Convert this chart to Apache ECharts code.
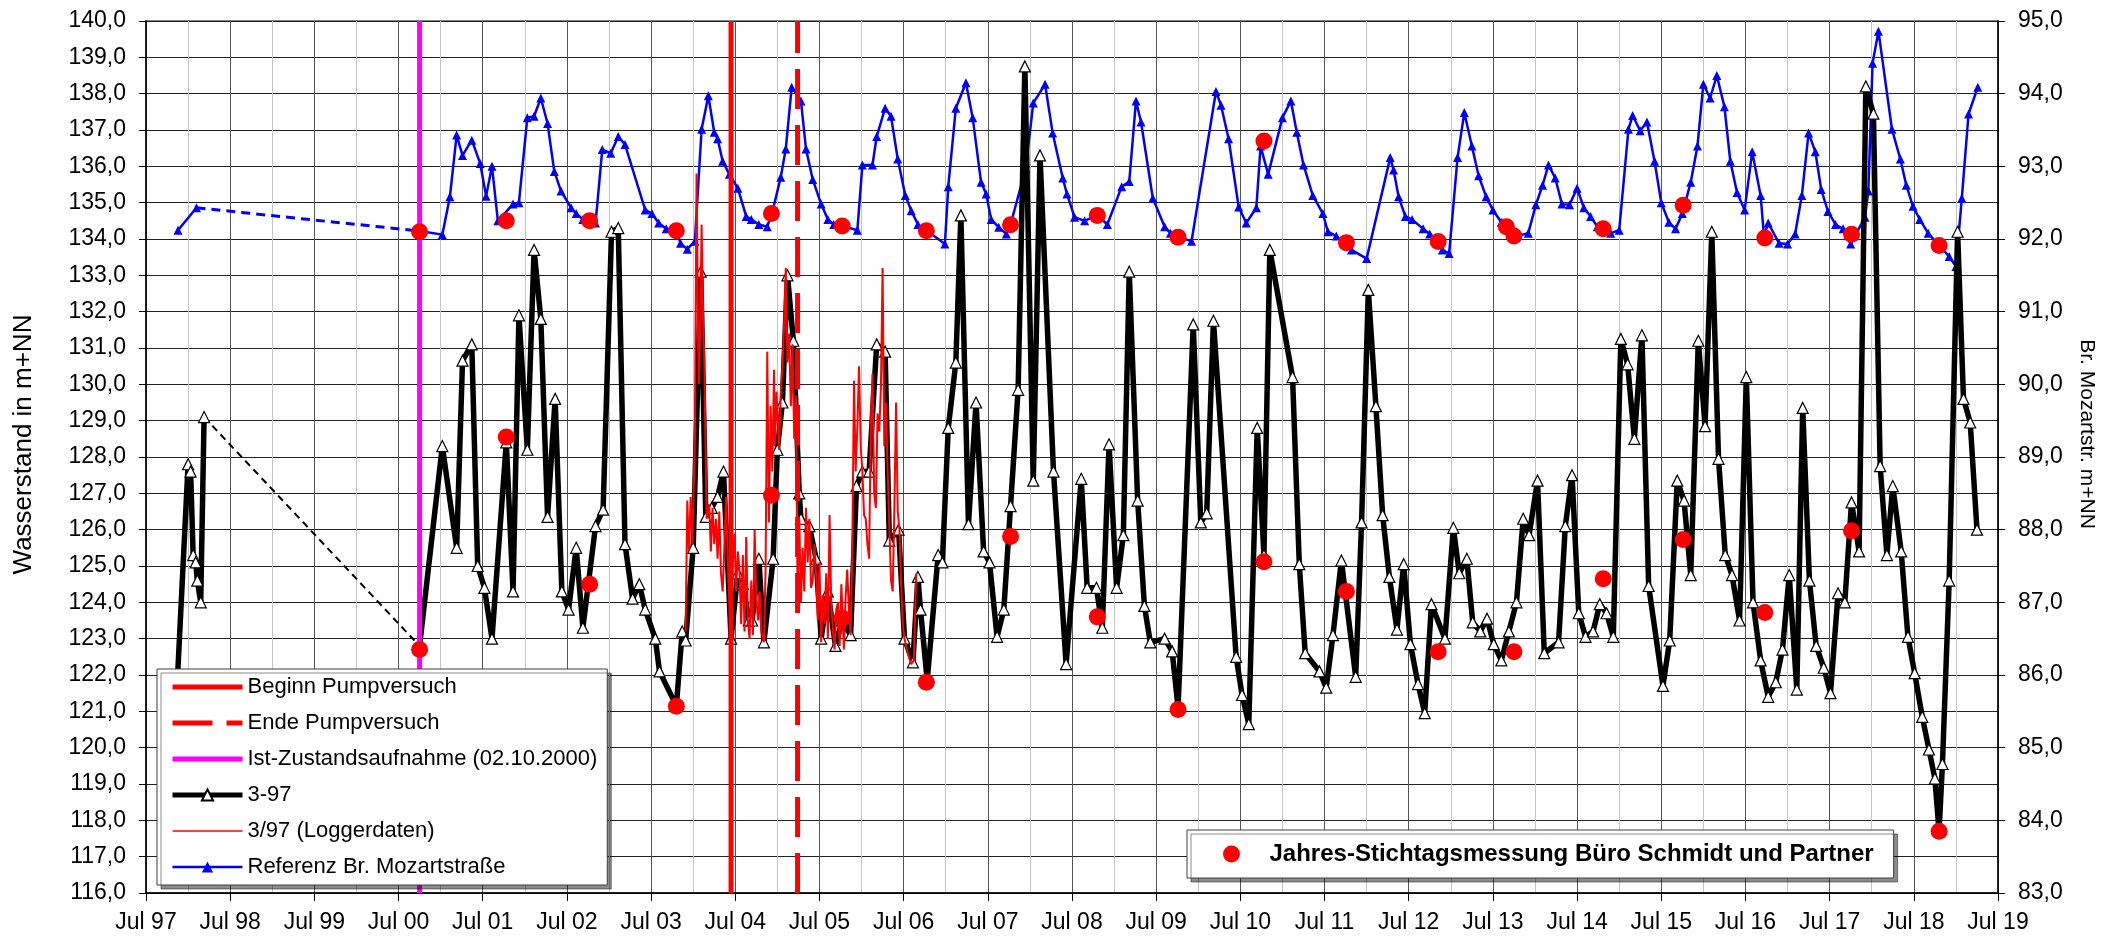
<!DOCTYPE html>
<html>
<head>
    <meta charset="utf-8">
    <title>Wasserstand 3-97</title>
    <script src="https://cdn.jsdelivr.net/npm/echarts@6/dist/echarts.min.js"></script>
    <style>
        html, body { margin: 0; padding: 0; background: #fff; }
        #main { width: 2105px; height: 937px; }
    </style>
</head>
<body>
<div id="main"></div>
<script>
    // Zeitachse: Dezimaljahre, Achse beginnt Jul 97
    var T0 = 1997.5;
    var xLabels = ['Jul 97', 'Jul 98', 'Jul 99', 'Jul 00', 'Jul 01', 'Jul 02', 'Jul 03', 'Jul 04',
        'Jul 05', 'Jul 06', 'Jul 07', 'Jul 08', 'Jul 09', 'Jul 10', 'Jul 11', 'Jul 12', 'Jul 13',
        'Jul 14', 'Jul 15', 'Jul 16', 'Jul 17', 'Jul 18', 'Jul 19'];

    // Ereignisse (Dezimaljahre)
    var beginnPumpversuch = 2004.45;
    var endePumpversuch = 2005.24;
    var istZustand = 2000.75;   // 02.10.2000

    // Messstelle 3-97 [Datum, m+NN]; Luecke nach Index gap397
    var gap397 = 8;
    var well397 = [
        [1997.85, 120.8], [1998.00, 127.8], [1998.03, 127.6], [1998.06, 125.3], [1998.09, 125.1], [1998.11, 124.6], [1998.15, 124.0], [1998.19, 129.1],
        [2000.75, 122.8], [2001.02, 128.3], [2001.19, 125.5], [2001.26, 130.65], [2001.37, 131.1], [2001.44, 125.0], [2001.52, 124.4], [2001.61, 123.0], [2001.78, 128.4], [2001.86, 124.3], [2001.93, 131.9],
        [2002.03, 128.2], [2002.11, 133.7], [2002.19, 131.8], [2002.27, 126.35], [2002.36, 129.6], [2002.44, 124.3], [2002.52, 123.8], [2002.61, 125.5], [2002.69, 123.3], [2002.84, 126.1], [2002.93, 126.55],
        [2003.03, 134.2], [2003.11, 134.3], [2003.19, 125.6], [2003.28, 124.1], [2003.36, 124.5], [2003.43, 123.8], [2003.55, 123.0], [2003.60, 122.1], [2003.80, 121.15], [2003.87, 123.2], [2003.91, 122.95],
        [2004.00, 125.5], [2004.09, 133.1], [2004.15, 126.35], [2004.22, 126.6], [2004.29, 126.9], [2004.36, 127.6], [2004.45, 123.0], [2004.53, 124.8], [2004.59, 124.5], [2004.66, 123.5], [2004.70, 123.5], [2004.78, 125.2], [2004.84, 122.9], [2004.95, 125.2],
        [2005.00, 128.2], [2005.06, 129.5], [2005.12, 133.0], [2005.19, 131.2], [2005.26, 127.0], [2005.28, 126.3], [2005.38, 126.1], [2005.46, 125.2], [2005.52, 123.0], [2005.60, 124.3], [2005.69, 122.8], [2005.77, 123.5], [2005.87, 123.1], [2005.94, 127.2],
        [2006.01, 127.6], [2006.09, 127.6], [2006.18, 131.1], [2006.28, 130.9], [2006.33, 125.7], [2006.44, 126.0], [2006.51, 123.0], [2006.61, 122.35], [2006.67, 124.7], [2006.70, 123.8], [2006.78, 121.85], [2006.91, 125.3], [2006.96, 125.1],
        [2007.03, 128.8], [2007.12, 130.6], [2007.18, 134.65], [2007.27, 126.15], [2007.36, 129.5], [2007.45, 125.4], [2007.52, 125.1], [2007.61, 123.05], [2007.69, 123.8], [2007.77, 126.65], [2007.86, 129.85], [2007.94, 138.75],
        [2008.04, 127.35], [2008.12, 136.3], [2008.28, 127.6], [2008.43, 122.3], [2008.61, 127.4], [2008.68, 124.4], [2008.79, 124.4], [2008.86, 123.3], [2008.94, 128.35],
        [2009.03, 124.4], [2009.11, 125.85], [2009.18, 133.1], [2009.28, 126.8], [2009.36, 123.9], [2009.43, 122.9], [2009.60, 123.0], [2009.69, 122.65], [2009.76, 121.1], [2009.94, 131.65],
        [2010.03, 126.2], [2010.10, 126.45], [2010.18, 131.75], [2010.45, 122.5], [2010.52, 121.45], [2010.60, 120.65], [2010.70, 128.8], [2010.78, 125.3], [2010.85, 133.7],
        [2011.12, 130.2], [2011.20, 125.05], [2011.27, 122.6], [2011.44, 122.1], [2011.52, 121.65], [2011.60, 123.1], [2011.70, 125.15], [2011.87, 121.95], [2011.94, 126.2],
        [2012.02, 132.6], [2012.11, 129.4], [2012.19, 126.4], [2012.27, 124.7], [2012.36, 123.25], [2012.44, 125.05], [2012.52, 122.85], [2012.61, 121.75], [2012.69, 120.95], [2012.77, 123.95], [2012.93, 123.0],
        [2013.03, 126.05], [2013.10, 124.8], [2013.19, 125.2], [2013.26, 123.45], [2013.35, 123.2], [2013.43, 123.55], [2013.51, 122.85], [2013.60, 122.4], [2013.69, 123.2], [2013.78, 124.0], [2013.86, 126.3], [2013.93, 125.85],
        [2014.03, 127.35], [2014.11, 122.6], [2014.28, 122.9], [2014.36, 126.1], [2014.44, 127.5], [2014.52, 123.7], [2014.60, 123.05], [2014.69, 123.2], [2014.77, 123.95], [2014.85, 123.7], [2014.93, 123.05],
        [2015.02, 131.25], [2015.10, 130.55], [2015.18, 128.5], [2015.27, 131.35], [2015.35, 124.45], [2015.52, 121.7], [2015.60, 122.95], [2015.69, 127.35], [2015.77, 126.8], [2015.85, 124.75], [2015.94, 131.2],
        [2016.02, 128.85], [2016.10, 134.2], [2016.18, 127.95], [2016.26, 125.3], [2016.34, 124.75], [2016.43, 123.5], [2016.51, 130.2], [2016.59, 124.0], [2016.68, 122.4], [2016.77, 121.4], [2016.86, 121.8], [2016.94, 122.7],
        [2017.02, 124.75], [2017.11, 121.6], [2017.18, 129.35], [2017.26, 124.6], [2017.34, 122.8], [2017.43, 122.2], [2017.51, 121.5], [2017.60, 124.25], [2017.68, 124.0], [2017.76, 126.75], [2017.85, 125.4], [2017.93, 138.2],
        [2018.02, 137.45], [2018.10, 127.75], [2018.18, 125.3], [2018.25, 127.2], [2018.35, 125.4], [2018.43, 123.05], [2018.51, 122.05], [2018.60, 120.85], [2018.68, 119.95], [2018.75, 119.15], [2018.80, 117.7], [2018.84, 119.55], [2018.92, 124.6],
        [2019.02, 134.2], [2019.09, 129.6], [2019.17, 128.95], [2019.25, 126.0]
    ];

    // 3/97 Loggerdaten [Datum, m+NN]
    var logger397 = [
        [2003.91, 123.2], [2003.93, 126.8], [2003.95, 125.4], [2003.97, 126.9], [2003.99, 125.6], [2004.02, 128.5], [2004.04, 135.8], [2004.06, 131.0],
        [2004.07, 130.0], [2004.09, 132.5], [2004.10, 134.4], [2004.12, 131.5], [2004.13, 130.9], [2004.16, 126.3], [2004.19, 126.7], [2004.21, 125.4],
        [2004.23, 126.6], [2004.25, 125.6], [2004.27, 126.3], [2004.29, 125.2], [2004.31, 126.5], [2004.33, 124.8], [2004.35, 124.3], [2004.37, 125.5],
        [2004.39, 126.9], [2004.42, 124.5], [2004.45, 123.0], [2004.47, 125.0], [2004.49, 125.9], [2004.51, 124.3], [2004.53, 125.4], [2004.55, 124.9],
        [2004.57, 123.4], [2004.59, 125.3], [2004.61, 123.2], [2004.63, 125.8], [2004.65, 123.5], [2004.67, 123.0], [2004.69, 124.6], [2004.71, 123.1],
        [2004.73, 126.0], [2004.75, 124.1], [2004.77, 123.5], [2004.79, 124.3], [2004.81, 123.2], [2004.84, 122.9], [2004.86, 124.9], [2004.88, 130.9],
        [2004.90, 126.2], [2004.92, 129.4], [2004.94, 127.6], [2004.96, 130.4], [2004.97, 128.3], [2004.99, 129.8], [2005.02, 128.2], [2005.04, 129.7],
        [2005.06, 130.5], [2005.08, 131.6], [2005.10, 133.2], [2005.12, 130.6], [2005.14, 131.4], [2005.16, 129.4], [2005.18, 131.1], [2005.20, 128.5],
        [2005.22, 129.7], [2005.24, 124.3], [2005.26, 126.3], [2005.28, 124.0], [2005.30, 125.5], [2005.32, 124.3], [2005.34, 126.6], [2005.36, 125.1],
        [2005.38, 126.3], [2005.40, 124.4], [2005.42, 124.6], [2005.44, 125.6], [2005.46, 124.8], [2005.48, 123.5], [2005.50, 125.1], [2005.52, 122.9],
        [2005.54, 124.2], [2005.56, 123.4], [2005.58, 124.8], [2005.60, 123.0], [2005.62, 126.4], [2005.64, 124.0], [2005.66, 123.2], [2005.68, 122.7],
        [2005.70, 123.8], [2005.72, 124.0], [2005.74, 122.8], [2005.76, 124.5], [2005.78, 123.4], [2005.79, 122.7], [2005.81, 124.1], [2005.83, 124.9],
        [2005.85, 123.8], [2005.87, 123.1], [2005.89, 125.4], [2005.91, 130.1], [2005.93, 127.6], [2005.95, 128.8], [2005.97, 130.5], [2005.99, 128.3],
        [2006.01, 127.6], [2006.03, 126.4], [2006.05, 126.3], [2006.07, 125.6], [2006.09, 125.2], [2006.11, 128.9], [2006.13, 130.3], [2006.15, 127.0],
        [2006.17, 126.6], [2006.19, 129.2], [2006.21, 128.7], [2006.23, 129.9], [2006.25, 133.2], [2006.27, 128.3], [2006.29, 129.5], [2006.31, 127.6],
        [2006.33, 126.1], [2006.35, 124.6], [2006.37, 124.3], [2006.39, 126.6], [2006.41, 129.5], [2006.43, 126.5], [2006.45, 126.0], [2006.47, 124.5],
        [2006.49, 123.4], [2006.51, 123.0], [2006.55, 122.6], [2006.59, 122.3], [2006.62, 122.4], [2006.65, 124.8]
    ];

    // Referenz Br. Mozartstrasse [Datum, m+NN rechte Achse]; Luecke nach Index gapRef
    var gapRef = 2;
    var refMozart = [
        [1997.88, 92.12], [1998.10, 92.43],
        [2000.75, 92.11], [2001.02, 92.06], [2001.11, 92.58], [2001.19, 93.43], [2001.26, 93.15], [2001.37, 93.36], [2001.47, 93.04], [2001.54, 92.59], [2001.61, 93.0], [2001.68, 92.25], [2001.86, 92.48], [2001.93, 92.5],
        [2002.03, 93.67], [2002.11, 93.69], [2002.19, 93.94], [2002.27, 93.59], [2002.35, 92.93], [2002.43, 92.66], [2002.55, 92.43], [2002.61, 92.35], [2002.69, 92.27], [2002.77, 92.25], [2002.84, 92.22], [2002.92, 93.23],
        [2003.02, 93.18], [2003.11, 93.41], [2003.19, 93.3], [2003.43, 92.4], [2003.51, 92.35], [2003.59, 92.22], [2003.68, 92.14], [2003.80, 92.12], [2003.85, 91.94], [2003.93, 91.86],
        [2004.02, 91.97], [2004.10, 93.51], [2004.18, 93.97], [2004.25, 93.47], [2004.29, 93.38], [2004.35, 93.07], [2004.43, 92.89], [2004.53, 92.7], [2004.63, 92.31], [2004.69, 92.27], [2004.78, 92.2], [2004.88, 92.17], [2004.94, 92.37],
        [2005.04, 92.85], [2005.10, 93.24], [2005.17, 94.09], [2005.28, 93.9], [2005.34, 93.24], [2005.42, 92.82], [2005.52, 92.48], [2005.60, 92.27], [2005.67, 92.2], [2005.77, 92.18], [2005.95, 92.12],
        [2006.01, 93.02], [2006.13, 93.02], [2006.18, 93.41], [2006.28, 93.8], [2006.35, 93.69], [2006.43, 93.1], [2006.52, 92.6], [2006.59, 92.39], [2006.67, 92.2], [2006.77, 92.12], [2006.99, 91.93],
        [2007.03, 92.72], [2007.12, 93.8], [2007.24, 94.15], [2007.32, 93.67], [2007.42, 92.78], [2007.48, 92.62], [2007.54, 92.27], [2007.63, 92.16], [2007.72, 92.07], [2007.77, 92.2], [2007.95, 92.97],
        [2008.04, 93.87], [2008.18, 94.13], [2008.27, 93.46], [2008.39, 92.84], [2008.44, 92.62], [2008.53, 92.3], [2008.65, 92.25], [2008.80, 92.33], [2008.92, 92.2],
        [2009.09, 92.72], [2009.18, 92.79], [2009.26, 93.9], [2009.32, 93.61], [2009.46, 92.56], [2009.60, 92.17], [2009.67, 92.08], [2009.76, 92.03], [2009.92, 91.97],
        [2010.21, 94.03], [2010.27, 93.84], [2010.36, 93.38], [2010.48, 92.44], [2010.57, 92.22], [2010.69, 92.43], [2010.74, 93.28], [2010.83, 92.89],
        [2011.00, 93.67], [2011.10, 93.9], [2011.17, 93.47], [2011.25, 93.02], [2011.36, 92.6], [2011.48, 92.35], [2011.54, 92.1], [2011.64, 92.04], [2011.73, 91.94], [2011.82, 91.85],
        [2012.00, 91.73], [2012.28, 93.12], [2012.32, 92.95], [2012.38, 92.58], [2012.46, 92.31], [2012.54, 92.27], [2012.67, 92.14], [2012.75, 92.07], [2012.85, 91.97], [2012.90, 91.85], [2012.98, 91.8],
        [2013.08, 93.12], [2013.16, 93.74], [2013.25, 93.28], [2013.33, 92.87], [2013.42, 92.58], [2013.50, 92.4], [2013.60, 92.23], [2013.66, 92.17], [2013.78, 92.04], [2013.92, 92.08],
        [2014.01, 92.47], [2014.09, 92.74], [2014.16, 93.02], [2014.24, 92.84], [2014.32, 92.48], [2014.41, 92.47], [2014.50, 92.7], [2014.58, 92.43], [2014.66, 92.31], [2014.74, 92.17], [2014.81, 92.14], [2014.90, 92.08],
        [2015.00, 92.12], [2015.11, 93.51], [2015.16, 93.7], [2015.25, 93.49], [2015.33, 93.61], [2015.42, 93.07], [2015.50, 92.5], [2015.59, 92.23], [2015.67, 92.14], [2015.75, 92.35], [2015.85, 92.78], [2015.93, 93.28],
        [2016.00, 94.13], [2016.08, 93.94], [2016.16, 94.25], [2016.25, 93.82], [2016.32, 93.07], [2016.40, 92.64], [2016.49, 92.4], [2016.58, 93.2], [2016.68, 92.6], [2016.72, 92.04], [2016.77, 92.22], [2016.90, 91.94],
        [2017.00, 91.93], [2017.09, 92.07], [2017.17, 92.6], [2017.25, 93.46], [2017.33, 93.2], [2017.40, 92.68], [2017.48, 92.38], [2017.57, 92.2], [2017.66, 92.14], [2017.75, 91.93], [2017.92, 92.3], [2017.96, 92.66],
        [2018.01, 94.42], [2018.08, 94.86], [2018.24, 93.51], [2018.34, 93.1], [2018.41, 92.74], [2018.49, 92.45], [2018.57, 92.27], [2018.67, 92.08], [2018.80, 91.91], [2018.92, 91.76],
        [2019.00, 91.62], [2019.07, 92.56], [2019.15, 93.72], [2019.26, 94.09]
    ];

    // Jahres-Stichtagsmessung [Datum, m+NN linke Achse]
    var stichtag = [
        [2000.75, 134.2], [2000.75, 122.7], [2001.78, 134.5], [2001.78, 128.55], [2002.77, 134.5], [2002.77, 124.5],
        [2003.80, 134.23], [2003.80, 121.14], [2004.93, 134.7], [2004.93, 126.95], [2005.77, 134.36], [2005.77, 123.57],
        [2006.77, 134.23], [2006.77, 121.8], [2007.77, 134.39], [2007.77, 125.81], [2008.80, 134.65], [2008.80, 123.6],
        [2009.76, 134.05], [2009.76, 121.05], [2010.78, 136.7], [2010.78, 125.12], [2011.76, 133.9], [2011.76, 124.3],
        [2012.85, 133.93], [2012.85, 122.64], [2013.66, 134.34], [2013.75, 134.08], [2013.75, 122.64],
        [2014.81, 134.28], [2014.81, 124.65], [2015.76, 134.93], [2015.76, 125.73], [2016.73, 134.03], [2016.73, 123.72],
        [2017.76, 134.13], [2017.76, 125.97], [2018.80, 133.82], [2018.80, 117.7]
    ];

    var yMin = 116, yMax = 140, y2Min = 83, y2Max = 95;
    var FONT = 'Liberation Sans';

    function toXY(list) {
        return list.map(function (p) { return [p[0] - T0, p[1]]; });
    }
    function vline(date) {
        return [[date - T0, yMin], [date - T0, yMax]];
    }
    function comma(v) {
        return v.toFixed(1).replace('.', ',');
    }

    var chart = echarts.init(document.getElementById('main'));

    chart.setOption({
        animation: false,
        backgroundColor: '#fff',
        grid: {
            left: 146, right: 106, top: 21, bottom: 44,
            show: true, borderColor: '#808080', borderWidth: 2
        },
        legend: [{
            orient: 'vertical',
            left: 157, top: 669,
            z: 20,
            itemWidth: 70, itemHeight: 14, itemGap: 14,
            padding: [7, 10, 7, 13],
            backgroundColor: '#fff',
            borderColor: '#404040', borderWidth: 1,
            shadowColor: 'rgba(0,0,0,0.45)', shadowOffsetX: 4, shadowOffsetY: 4, shadowBlur: 0,
            textStyle: { fontFamily: FONT, fontSize: 22, color: '#000' },
            data: [
                { name: 'Beginn Pumpversuch', icon: 'path://M0,0h70v5h-70z' },
                { name: 'Ende Pumpversuch', icon: 'path://M0,0h40v5h-40zM54,0h16v5h-16z' },
                { name: 'Ist-Zustandsaufnahme (02.10.2000)', icon: 'path://M0,0h70v5h-70z' },
                { name: '3-97', lineStyle: { width: 5 } },
                { name: '3/97 (Loggerdaten)', icon: 'path://M0,0h70v1.5h-70z' },
                { name: 'Referenz Br. Mozartstraße', lineStyle: { width: 2.5 } }
            ]
        }, {
            left: 1187, top: 830,
            z: 20,
            itemWidth: 66, itemHeight: 17,
            padding: [12, 20, 12, 36],
            backgroundColor: '#fff',
            borderColor: '#404040', borderWidth: 1,
            shadowColor: 'rgba(0,0,0,0.45)', shadowOffsetX: 4, shadowOffsetY: 4, shadowBlur: 0,
            textStyle: { fontFamily: FONT, fontSize: 24, fontWeight: 'bold', color: '#000' },
            data: [{ name: 'Jahres-Stichtagsmessung Büro Schmidt und Partner', icon: 'circle' }]
        }],
        xAxis: {
            type: 'value',
            min: 0, max: xLabels.length - 1, interval: 1,
            axisLine: { lineStyle: { color: '#000', width: 1.5 } },
            axisTick: { show: true, length: 8, lineStyle: { color: '#000' } },
            minorTick: { show: false, splitNumber: 2 },
            axisLabel: {
                margin: 18, fontFamily: FONT, fontSize: 23, color: '#000',
                formatter: function (v) { return xLabels[Math.round(v)]; }
            },
            splitLine: { show: true, lineStyle: { color: '#555', width: 1 } },
            minorSplitLine: { show: true, lineStyle: { color: '#c4c4c4', width: 1 } }
        },
        yAxis: [{
            type: 'value',
            min: yMin, max: yMax, interval: 1,
            name: 'Wasserstand in m+NN',
            nameLocation: 'middle', nameGap: 109,
            nameTextStyle: { fontFamily: FONT, fontSize: 26, color: '#000', padding: [0, 0, 0, 25] },
            axisLine: { show: true, lineStyle: { color: '#000', width: 1.5 } },
            axisTick: { show: true, length: 7, lineStyle: { color: '#000' } },
            axisLabel: { margin: 20, fontFamily: FONT, fontSize: 23, color: '#000', formatter: comma },
            splitLine: { show: true, lineStyle: { color: '#222', width: 1 } }
        }, {
            type: 'value',
            position: 'right',
            min: y2Min, max: y2Max, interval: 1,
            name: 'Br. Mozartstr. m+NN',
            nameLocation: 'middle', nameGap: 78, nameRotate: -90,
            nameTextStyle: { fontFamily: FONT, fontSize: 21, color: '#000', padding: [0, 46, 0, 0] },
            axisLine: { show: true, lineStyle: { color: '#000', width: 1.5 } },
            axisTick: { show: true, length: 7, lineStyle: { color: '#000' } },
            axisLabel: { margin: 20, fontFamily: FONT, fontSize: 23, color: '#000', formatter: comma },
            splitLine: { show: false }
        }],
        series: [
            // Referenz Br. Mozartstrasse (rechte Achse)
            {
                name: 'Referenz Br. Mozartstraße', type: 'line', yAxisIndex: 1, z: 2,
                data: toXY(refMozart.slice(gapRef)),
                symbol: 'triangle', symbolSize: 9,
                itemStyle: { color: '#0000ff' },
                lineStyle: { color: '#0000ff', width: 2.5 }
            },
            {
                name: 'Referenz Br. Mozartstraße', type: 'line', yAxisIndex: 1, z: 2,
                data: toXY(refMozart.slice(0, gapRef)),
                symbol: 'triangle', symbolSize: 9,
                itemStyle: { color: '#0000ff' },
                lineStyle: { color: '#0000ff', width: 2.5 }
            },
            {
                name: 'refGap', type: 'line', yAxisIndex: 1, z: 2,
                data: toXY(refMozart.slice(gapRef - 1, gapRef + 1)),
                symbol: 'none',
                lineStyle: { color: '#0000ff', width: 3, type: [9, 6] }
            },
            // 3-97
            {
                name: 'well397Gap', type: 'line', z: 3,
                data: toXY(well397.slice(gap397 - 1, gap397 + 1)),
                symbol: 'none',
                lineStyle: { color: '#000', width: 2, type: [7, 5] }
            },
            {
                name: '3-97', type: 'line', z: 3,
                data: toXY(well397.slice(gap397)),
                symbol: 'triangle', symbolSize: 11,
                itemStyle: { color: '#fff', borderColor: '#000', borderWidth: 1.2 },
                lineStyle: { color: '#000', width: 5.5 }
            },
            {
                name: '3-97', type: 'line', z: 3,
                data: toXY(well397.slice(0, gap397)),
                symbol: 'triangle', symbolSize: 11,
                itemStyle: { color: '#fff', borderColor: '#000', borderWidth: 1.2 },
                lineStyle: { color: '#000', width: 5.5 }
            },
            // Loggerdaten
            {
                name: '3/97 (Loggerdaten)', type: 'line', z: 4,
                data: toXY(logger397),
                symbol: 'none',
                itemStyle: { color: '#ff0000' },
                lineStyle: { color: '#ff0000', width: 2 }
            },
            // Ereignislinien
            {
                name: 'Beginn Pumpversuch', type: 'line', z: 5,
                data: vline(beginnPumpversuch), symbol: 'none',
                itemStyle: { color: '#ff0000' },
                lineStyle: { color: '#ff0000', width: 5 }
            },
            {
                name: 'Ende Pumpversuch', type: 'line', z: 5,
                data: vline(endePumpversuch), symbol: 'none',
                itemStyle: { color: '#ff0000' },
                lineStyle: { color: '#ff0000', width: 5, type: [40, 16] }
            },
            {
                name: 'Ist-Zustandsaufnahme (02.10.2000)', type: 'line', z: 5,
                data: vline(istZustand), symbol: 'none',
                itemStyle: { color: '#ff00ff' },
                lineStyle: { color: '#ff00ff', width: 5 }
            },
            // Stichtagsmessung
            {
                name: 'Jahres-Stichtagsmessung Büro Schmidt und Partner', type: 'scatter', z: 6,
                data: toXY(stichtag),
                symbol: 'circle', symbolSize: 17,
                itemStyle: { color: '#ff0000', opacity: 1 }
            }
        ]
    });
</script>
</body>
</html>
